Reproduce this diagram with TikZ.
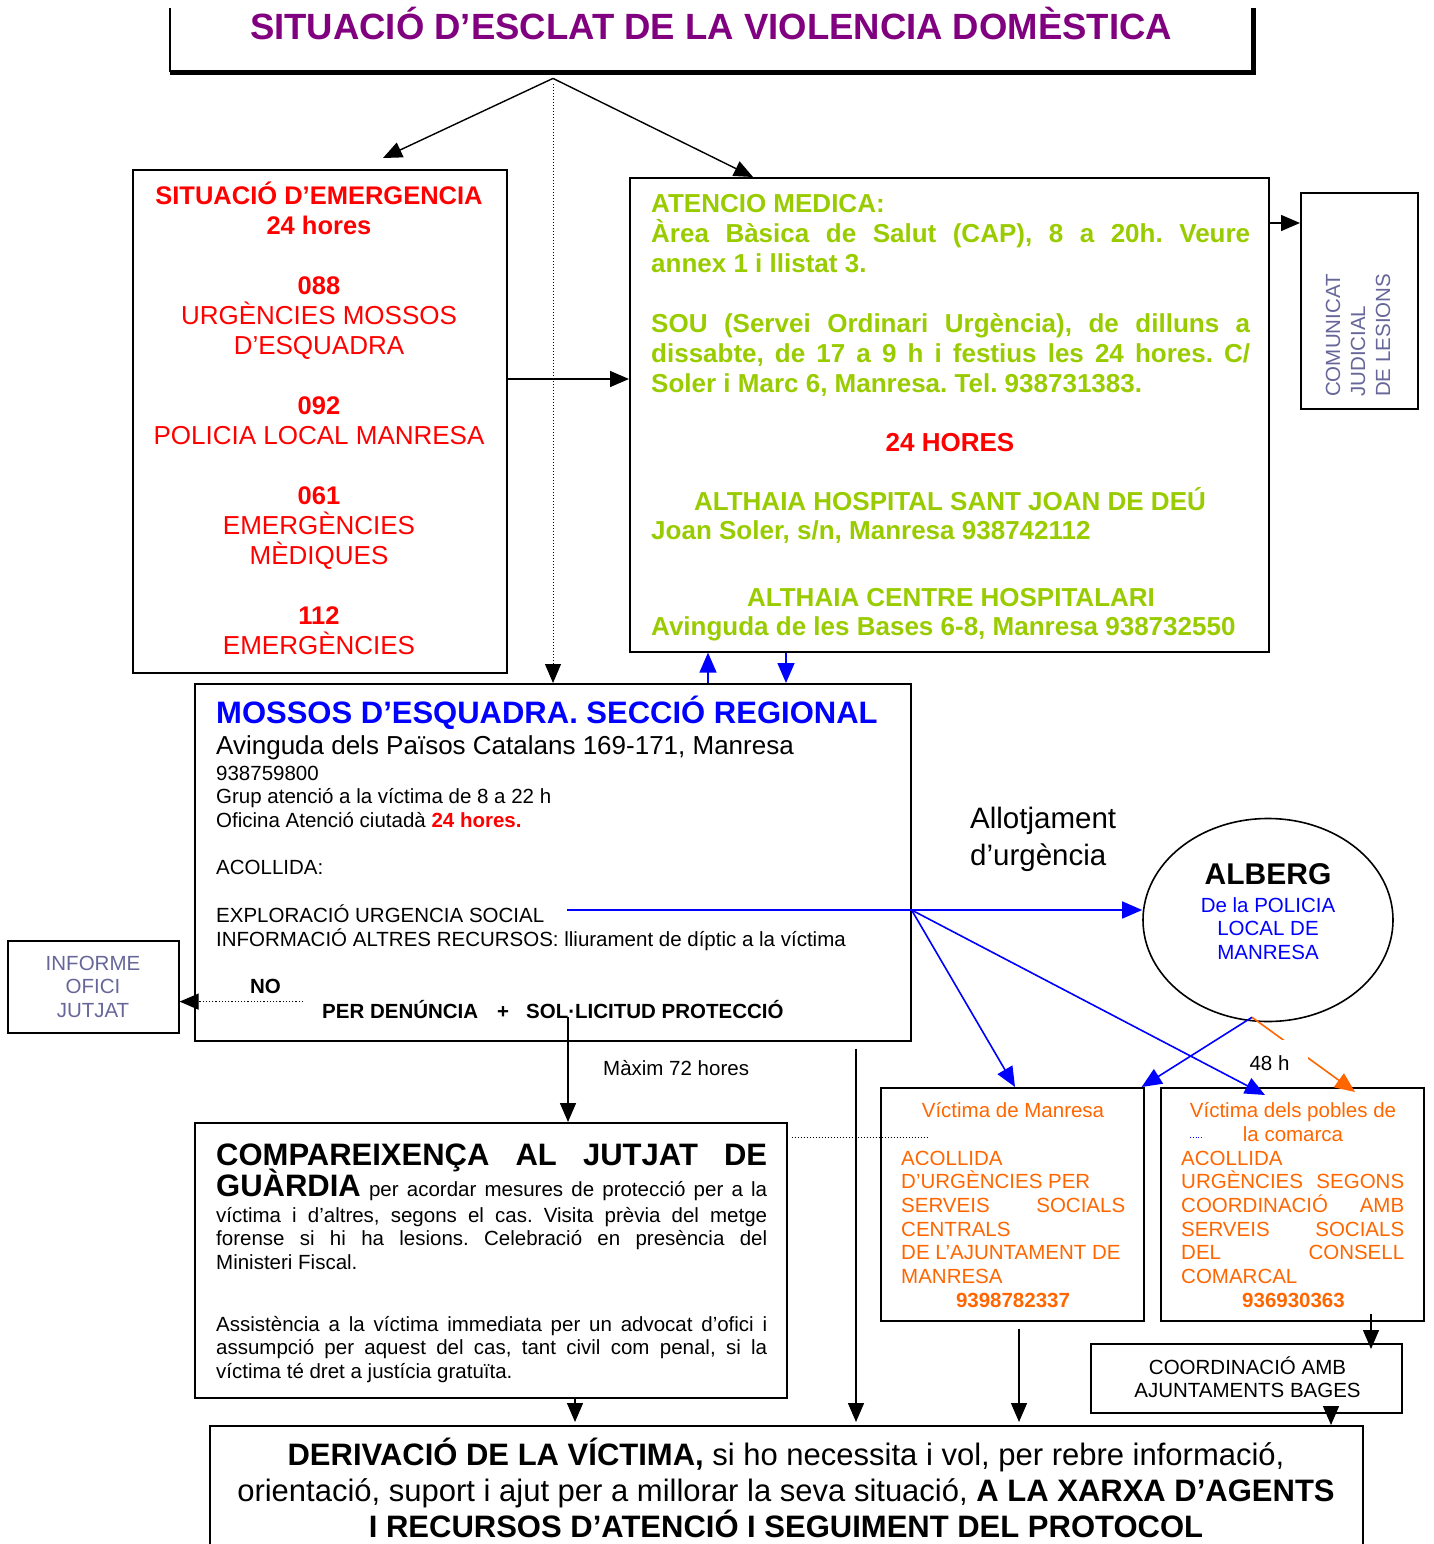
\documentclass[tikz,border=0pt]{standalone}
\usepackage{fontspec}
\setmainfont{Liberation Sans}
\usetikzlibrary{arrows.meta,shapes.geometric,calc}
\definecolor{ttl}{HTML}{800080}
\definecolor{medg}{HTML}{99CC00}
\definecolor{org}{HTML}{FF6600}
\definecolor{slate}{HTML}{666699}
\definecolor{rd}{HTML}{FF0000}
\definecolor{bl}{HTML}{0000FF}
\newcommand{\fsz}[2]{\fontsize{#1}{#2}\selectfont}
\newcommand{\jl}[2]{\makebox[#1][s]{#2}}
\newcommand{\eb}[1]{{\fsz{25.5}{30}\bfseries #1}}
\frenchspacing
\begin{document}
\begin{tikzpicture}[x=1pt,y=-1pt,
  box/.style={draw, line width=1.6pt, inner sep=0pt, anchor=north west},
  txt/.style={inner sep=0pt, anchor=base},
  txtl/.style={inner sep=0pt, anchor=base west, align=left},
  arr/.style={line width=1.4pt, -{Triangle[length=19pt,width=16pt]}},
  barr/.style={bl, line width=1.6pt, -{Triangle[length=20pt,width=17pt]}},
  darr/.style={dotted, line width=1.2pt, -{Triangle[length=19pt,width=16pt]}},
]
\useasboundingbox (0,0) rectangle (1433,1544);

% ---------- boxes ----------
\node[anchor=north west, minimum width=1083pt, minimum height=64pt, inner sep=0pt] (tb) at (170,8) {};
\draw[line width=1.5pt] (tb.north west) -- (tb.south west);
\draw[line width=4.5pt] (tb.south west) -- (tb.south east) -- (tb.north east);
\node[box, minimum width=374pt, minimum height=503pt] (emg) at (132,169) {};
\node[box, minimum width=639pt, minimum height=474pt] (med) at (629,177) {};
\node[box, minimum width=117pt, minimum height=216pt] (com) at (1300,192) {};
\node[box, minimum width=716pt, minimum height=357pt] (mos) at (194,683) {};
\node[box, minimum width=171pt, minimum height=92pt] (inf) at (7,940) {};
\node[draw, line width=1.6pt, ellipse, minimum width=250pt, minimum height=203pt, inner sep=0pt] (alb) at (1268,920) {};
\node[box, minimum width=592pt, minimum height=275pt] (comp) at (194,1122) {};
\node[box, minimum width=263pt, minimum height=233pt] (vm) at (880,1087) {};
\node[box, minimum width=263pt, minimum height=233pt] (vp) at (1160,1087) {};
\node[box, minimum width=311pt, minimum height=69pt] (co) at (1090,1343) {};
\node[box, minimum width=1153pt, minimum height=160pt] (der) at (209,1425) {};

% ---------- texts (multi-line nodes are placed by the baseline of their last line) ----------
\node[txt, text=ttl, font=\fsz{36.5}{40}\bfseries] (ttlt) at (711,40) {SITUACIÓ D’ESCLAT DE LA VIOLENCIA DOMÈSTICA};

\node[txt, align=center, text=rd, font=\fsz{26}{30}] (emgt) at (319,654)
 {\eb{SITUACIÓ D’EMERGENCIA}\\\eb{24 hores}\\[30pt]\eb{088}\\URGÈNCIES MOSSOS\\D’ESQUADRA\\[30pt]\eb{092}\\POLICIA LOCAL MANRESA\\[30pt]\eb{061}\\EMERGÈNCIES\\MÈDIQUES\\[30pt]\eb{112}\\EMERGÈNCIES};

\node[txtl, text=medg, font=\fsz{26}{30}\bfseries] (meda) at (651,392)
 {ATENCIO MEDICA:\\
  \jl{599pt}{Àrea Bàsica de Salut (CAP), 8 a 20h. Veure}\\
  annex 1 i llistat 3.\\[30pt]
  \jl{599pt}{SOU (Servei Ordinari Urgència), de dilluns a}\\
  \jl{599pt}{dissabte, de 17 a 9 h i festius les 24 hores. C/}\\
  Soler i Marc 6, Manresa. Tel. 938731383.};
\node[txt, text=rd, font=\fsz{26}{30}\bfseries] (medb) at (950,451) {24 HORES};
\node[txt, text=medg, font=\fsz{26}{30}\bfseries] (medc) at (950,510) {ALTHAIA HOSPITAL SANT JOAN DE DEÚ};
\node[txtl, text=medg, font=\fsz{26}{30}\bfseries] (medd) at (651,539) {Joan Soler, s/n, Manresa 938742112};
\node[txt, text=medg, font=\fsz{26}{30}\bfseries] (mede) at (951,606) {ALTHAIA CENTRE HOSPITALARI};
\node[txtl, text=medg, font=\fsz{26}{30}\bfseries] (medf) at (651,635) {Avinguda de les Bases 6-8, Manresa 938732550};

\node[txtl, rotate=90, text=slate, font=\fsz{20.5}{25}] (comt) at (1390,397) {COMUNICAT\\JUDICIAL\\DE LESIONS};

\node[txtl, text=bl, font=\fsz{31}{34}\bfseries] (most) at (216,723) {MOSSOS D’ESQUADRA. SECCIÓ REGIONAL};
\node[txtl, font=\fsz{26}{30}] (mosa) at (216,754) {Avinguda dels Països Catalans 169-171, Manresa};
\node[txtl, font=\fsz{20.5}{23.7}] (mosb) at (216,946)
 {938759800\\
  Grup atenció a la víctima de 8 a 22 h\\
  Oficina Atenció ciutadà {\color{rd}\bfseries 24 hores.}\\[23.7pt]
  ACOLLIDA:\\[23.7pt]
  EXPLORACIÓ URGENCIA SOCIAL\\
  INFORMACIÓ ALTRES RECURSOS: lliurament de díptic a la víctima};
\node[txt, font=\fsz{20.5}{24}\bfseries] (no) at (265.5,993) {NO};
\node[txtl, font=\fsz{20.5}{24}\bfseries] (den) at (322,1018) {PER DENÚNCIA};
\node[txt, font=\fsz{20.5}{24}\bfseries] (plus) at (503,1018) {+};
\node[txtl, font=\fsz{20.5}{24}\bfseries] (sol) at (526,1018) {SOL·LICITUD PROTECCIÓ};

\node[txt, align=center, text=slate, font=\fsz{20.5}{23.5}] (inft) at (93,1017) {INFORME\\OFICI\\JUTJAT};

\node[txtl, font=\fsz{29.5}{37}] (allo) at (970,865) {Allotjament\\d’urgència};
\node[txt, font=\fsz{30}{34}\bfseries] (albt) at (1268,884) {ALBERG};
\node[txt, align=center, text=bl, font=\fsz{20.5}{23.5}] (albb) at (1268,959) {De la POLICIA\\LOCAL DE\\MANRESA};

\node[txtl, font=\fsz{20.5}{24}] (max) at (603,1075) {Màxim 72 hores};

\node[txtl, font=\fsz{31}{34}\bfseries] (cp1) at (216,1165) {\jl{551pt}{COMPAREIXENÇA AL JUTJAT DE}};
\node[txtl, font=\fsz{20.5}{23.5}] (cp2) at (216,1196) {\jl{551pt}{{\fsz{31}{34}\bfseries GUÀRDIA} per acordar mesures de protecció per a la}};
\node[txtl, font=\fsz{20.5}{23.5}] (cp3) at (216,1269)
 {\jl{551pt}{víctima i d’altres, segons el cas. Visita prèvia del metge}\\
  \jl{551pt}{forense si hi ha lesions. Celebració en presència del}\\
  Ministeri Fiscal.};
\node[txtl, font=\fsz{20.5}{23.5}] (cp4) at (216,1378)
 {\jl{551pt}{Assistència a la víctima immediata per un advocat d’ofici i}\\
  \jl{551pt}{assumpció per aquest del cas, tant civil com penal, si la}\\
  víctima té dret a justícia gratuïta.};

\node[txt, text=org, font=\fsz{20.5}{23.7}] (vmt) at (1013,1117) {Víctima de Manresa};
\node[txtl, text=org, font=\fsz{20.5}{23.7}] (vmb) at (901,1283.5)
 {ACOLLIDA\\D’URGÈNCIES PER\\\jl{224pt}{SERVEIS SOCIALS}\\CENTRALS\\DE L’AJUNTAMENT DE\\MANRESA};
\node[txt, text=org, font=\fsz{20.5}{23.7}\bfseries] (vmn) at (1013,1307) {9398782337};

\node[txt, align=center, text=org, font=\fsz{20.5}{23.7}] (vpt) at (1293,1141) {Víctima dels pobles de\\la comarca};
\node[txtl, text=org, font=\fsz{20.5}{23.7}] (vpb) at (1181,1283.5)
 {ACOLLIDA\\\jl{223pt}{URGÈNCIES SEGONS}\\\jl{223pt}{COORDINACIÓ AMB}\\\jl{223pt}{SERVEIS SOCIALS}\\\jl{223pt}{DEL CONSELL}\\COMARCAL};
\node[txt, text=org, font=\fsz{20.5}{23.7}\bfseries] (vpn) at (1293.5,1307) {936930363};

\node[txt, align=center, font=\fsz{20.5}{23}] (cot) at (1247.5,1397) {COORDINACIÓ AMB\\AJUNTAMENTS BAGES};

\node[txt, align=center, font=\fsz{31}{36}] (dert) at (786,1537)
 {{\bfseries DERIVACIÓ DE LA VÍCTIMA,} si ho necessita i vol, per rebre informació,\\
  orientació, suport i ajut per a millorar la seva situació, {\bfseries A LA XARXA D’AGENTS}\\
  {\bfseries I RECURSOS D’ATENCIÓ I SEGUIMENT DEL PROTOCOL}};

% ---------- connectors ----------
\coordinate (apex) at ($(tb.south west)+(383,6)$);
\draw[arr] (apex) -- ($(emg.north west)+(251,-11)$);
\draw[arr] (apex) -- ($(med.north west)+(124,0)$);
\draw[darr, line width=1pt] ($(apex)+(0,6)$) -- (apex |- mos.north);
\draw[arr] ($(emg.north east)+(0,210)$) -- ($(med.north west)+(0,202)$);
\draw[arr] ($(med.north east)+(0,46)$) -- ($(com.north west)+(0,31)$);
\draw[barr] ($(mos.north west)+(514,0)$) -- ($(med.south west)+(79,0)$);
\draw[barr] ($(med.south west)+(157,0)$) -- ($(mos.north west)+(592,0)$);

\coordinate (nod) at ($(mos.south west)+(109,-40)$);
\draw[darr] (nod) -- (inf.east |- nod);

\draw[arr] ($(mos.south west)+(374,-25)$) -- ($(comp.north west)+(374,0)$);
\draw[arr] ($(mos.south west)+(662,7)$) -- ($(der.north west)+(647,-3)$);
\draw[arr] ($(comp.south west)+(381,0)$) -- ($(der.north west)+(366,-3)$);
\draw[arr] ($(vm.south west)+(139,7)$) -- ($(der.north west)+(810,-3)$);
\draw[arr] ($(vp.south west)+(211,-8)$) -- ($(co.north west)+(281,6)$);
\draw[arr] ($(co.south west)+(241,-5)$) -- ($(der.north west)+(1122,0)$);

\draw[dotted, line width=1pt] ($(comp.north east)+(4,15)$) -- ($(vm.north west)+(47,50)$);
\draw[dotted, bl, line width=0.8pt] ($(vp.north west)+(30,50)$) -- ($(vp.north west)+(44,50)$);

% alberg region
\coordinate (ab) at ($(alb.south)+(-16,-5)$);
\draw[org, line width=1.6pt, -{Triangle[length=20pt,width=17pt]}] (ab) -- ($(vp.north west)+(195,5)$);
\node[fill=white, inner sep=0pt, minimum width=77pt, minimum height=47pt, font=\fsz{20.5}{24}] (h48) at (1269.5,1063.5) {48 h};

\coordinate (bstart) at ($(mos.north west)+(373,227)$);
\coordinate (bj) at ($(mos.north east)+(0,227)$);
\draw[barr] (bstart) -- ($(alb.west)+(0,-10)$);
\draw[barr] (bj) -- ($(vm.north west)+(135,0)$);
\draw[barr] (bj) -- ($(vp.north west)+(105,8)$);
\draw[barr] (ab) -- ($(vm.north east)+(-3,0)$);
\end{tikzpicture}
\end{document}
